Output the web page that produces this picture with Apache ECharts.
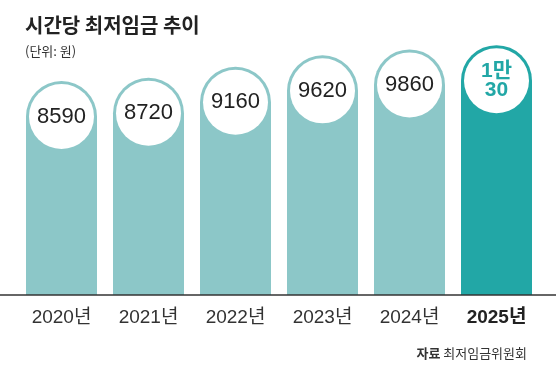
<!DOCTYPE html>
<html>
<head>
<meta charset="utf-8">
<script src="https://cdn.jsdelivr.net/npm/echarts@6/dist/echarts.min.js"></script>
<style>
html, body { margin: 0; padding: 0; background: #fff; }
#chart { width: 556px; height: 369px; }
</style>
</head>
<body>
<div id="chart"></div>
<script>
// 연도별 시간당 최저임금 (원)
const years = ['2020년', '2021년', '2022년', '2023년', '2024년', '2025년']
const wages = [8590, 8720, 9160, 9620, 9860, 10030]
const wageLabels = ['8590', '8720', '9160', '9620', '9860', '1만\n30']

const lightTeal = '#8cc7c8'
const darkTeal = '#22a7a6'
const fontFamily = "'Liberation Sans', 'Noto Sans CJK KR', sans-serif"
const lastIdx = wages.length - 1

let myChart = echarts.init(document.getElementById('chart'))
let option = {
    backgroundColor: '#FFFFFF',
    animation: false,
    title: [{
        text: '시간당 최저임금 추이',
        subtext: '(단위: 원)',
        left: 20,
        top: 10,
        itemGap: 10,
        textStyle: {
            fontFamily: "'Noto Sans CJK KR', sans-serif",
            fontSize: 20,
            fontWeight: 'bold',
            color: '#222'
        },
        subtextStyle: {
            fontFamily: "'Noto Sans CJK KR', sans-serif",
            fontSize: 13,
            color: '#333'
        }
    }, {
        text: '{b|자료} 최저임금위원회',
        right: 24,
        top: 342,
        textStyle: {
            fontFamily: "'Noto Sans CJK KR', sans-serif",
            fontSize: 13,
            fontWeight: 'normal',
            color: '#333',
            rich: {
                b: {
                    fontFamily: "'Noto Sans CJK KR', sans-serif",
                    fontSize: 13,
                    fontWeight: 'bold',
                    color: '#333'
                }
            }
        }
    }],
    grid: {
        left: 18,
        right: 16,
        top: 21,
        bottom: 74
    },
    xAxis: {
        type: 'category',
        data: years,
        axisLine: { show: false },
        axisTick: { show: false },
        axisLabel: {
            interval: 0,
            margin: 13,
            fontFamily: fontFamily,
            fontSize: 19,
            color: '#333',
            formatter: function (val, idx) {
                return idx === lastIdx ? '{b|' + val + '}' : val
            },
            rich: {
                b: {
                    fontFamily: fontFamily,
                    fontSize: 19,
                    fontWeight: 'bold',
                    color: '#222'
                }
            }
        }
    },
    yAxis: {
        type: 'value',
        min: 0,
        max: 11000,
        show: false,
        splitLine: { show: false }
    },
    series: [
        {
            type: 'bar',
            data: wages.map((v, i) => ({
                value: v,
                itemStyle: { color: i === lastIdx ? darkTeal : lightTeal }
            })),
            barWidth: 71,
            itemStyle: {
                borderRadius: [35.5, 35.5, 0, 0]
            }
        },
        {
            // 막대 위 흰 원 + 금액
            type: 'scatter',
            data: wages,
            symbol: 'circle',
            symbolSize: 65,
            symbolOffset: [0, 35.5],
            itemStyle: { color: '#fff', opacity: 1 },
            label: {
                show: true,
                position: 'inside',
                fontFamily: fontFamily,
                fontSize: 22,
                color: '#222',
                formatter: function (p) {
                    if (p.dataIndex === lastIdx) {
                        return wageLabels[p.dataIndex].split('\n').map(s => '{b|' + s + '}').join('\n')
                    }
                    return wageLabels[p.dataIndex]
                },
                rich: {
                    b: {
                        fontFamily: fontFamily,
                        fontSize: 21,
                        fontWeight: 'bold',
                        lineHeight: 19,
                        color: darkTeal
                    }
                }
            },
            emphasis: { disabled: true },
            z: 3
        }
    ],
    graphic: [{
        type: 'line',
        shape: { x1: 0, y1: 295, x2: 556, y2: 295 },
        style: { stroke: '#333', lineWidth: 1.5 },
        z: 10
    }]
}
myChart.setOption(option)
</script>
</body>
</html>
